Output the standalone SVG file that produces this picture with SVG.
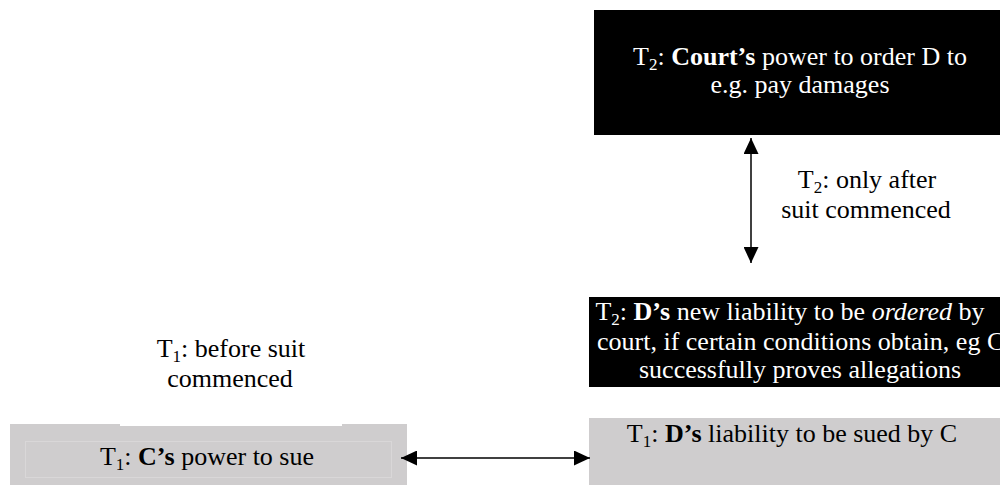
<svg xmlns="http://www.w3.org/2000/svg" width="1000" height="485" viewBox="0 0 1000 485">
  <style>
    .t { font-family: "Liberation Serif", "Times New Roman", serif; font-size: 26px; }
    .w { fill: #ffffff; }
    .k { fill: #000000; }
    .c { text-anchor: middle; }
    .b { font-weight: bold; }
    .i { font-style: italic; }
    .sub { font-size: 17px; }
    .dark { fill: #000000; }
    .grey { fill: #cfcdce; }
    .conn { stroke: #000000; stroke-width: 1.5; fill: none; }
  </style>
  <defs>
    <marker id="ah" viewBox="0 0 16 15" refX="16" refY="7.5" markerWidth="16" markerHeight="15" markerUnits="userSpaceOnUse" orient="auto-start-reverse">
      <path d="M0,0 L16,7.5 L0,15 Z" fill="#000000"/>
    </marker>
  </defs>
  <rect x="0" y="0" width="1000" height="485" fill="#ffffff"/>

  <g id="court-power">
    <rect class="dark" x="594" y="10" width="406" height="125"/>
    <text class="t w c" x="800" y="65">T<tspan class="sub" dy="5">2</tspan><tspan dy="-5">: </tspan><tspan class="b">Court’s</tspan> power to order D to</text>
    <text class="t w c" x="800" y="93">e.g. pay damages</text>
  </g>

  <g id="label-t2">
    <text class="t k c" x="867" y="188">T<tspan class="sub" dy="5">2</tspan><tspan dy="-5">: only after</tspan></text>
    <text class="t k c" x="866" y="218">suit commenced</text>
  </g>

  <g id="d-new-liability">
    <rect class="dark" x="589" y="297" width="411" height="90"/>
    <text class="t w c" x="790" y="320">T<tspan class="sub" dy="5">2</tspan><tspan dy="-5">: </tspan><tspan class="b">D’s</tspan> new liability to be <tspan class="i">ordered</tspan> by</text>
    <text class="t w" x="597" y="350">court, if certain conditions obtain, eg C</text>
    <text class="t w c" x="800" y="378">successfully proves allegations</text>
  </g>

  <g id="d-liability">
    <rect class="grey" x="589" y="418" width="411" height="67"/>
    <text class="t k c" x="792" y="442">T<tspan class="sub" dy="5">1</tspan><tspan dy="-5">: </tspan><tspan class="b">D’s</tspan> liability to be sued by C</text>
  </g>

  <g id="label-t1">
    <text class="t k c" x="231" y="357">T<tspan class="sub" dy="5">1</tspan><tspan dy="-5">: before suit</tspan></text>
    <text class="t k c" x="230" y="387">commenced</text>
  </g>

  <g id="c-power">
    <rect class="grey" x="10" y="424" width="397" height="61"/>
    <rect x="120" y="424" width="222" height="2" fill="#ffffff"/>
    <rect x="25.5" y="441.5" width="366" height="36" fill="none" stroke="#d9d7d8" stroke-width="1"/>
    <text class="t k c" x="207" y="465">T<tspan class="sub" dy="5">1</tspan><tspan dy="-5">: </tspan><tspan class="b">C’s</tspan> power to sue</text>
  </g>

  <g id="connectors">
    <line class="conn" x1="751" y1="138" x2="751" y2="263" marker-start="url(#ah)" marker-end="url(#ah)"/>
    <line class="conn" x1="401" y1="458" x2="590" y2="458" marker-start="url(#ah)" marker-end="url(#ah)"/>
  </g>
</svg>
